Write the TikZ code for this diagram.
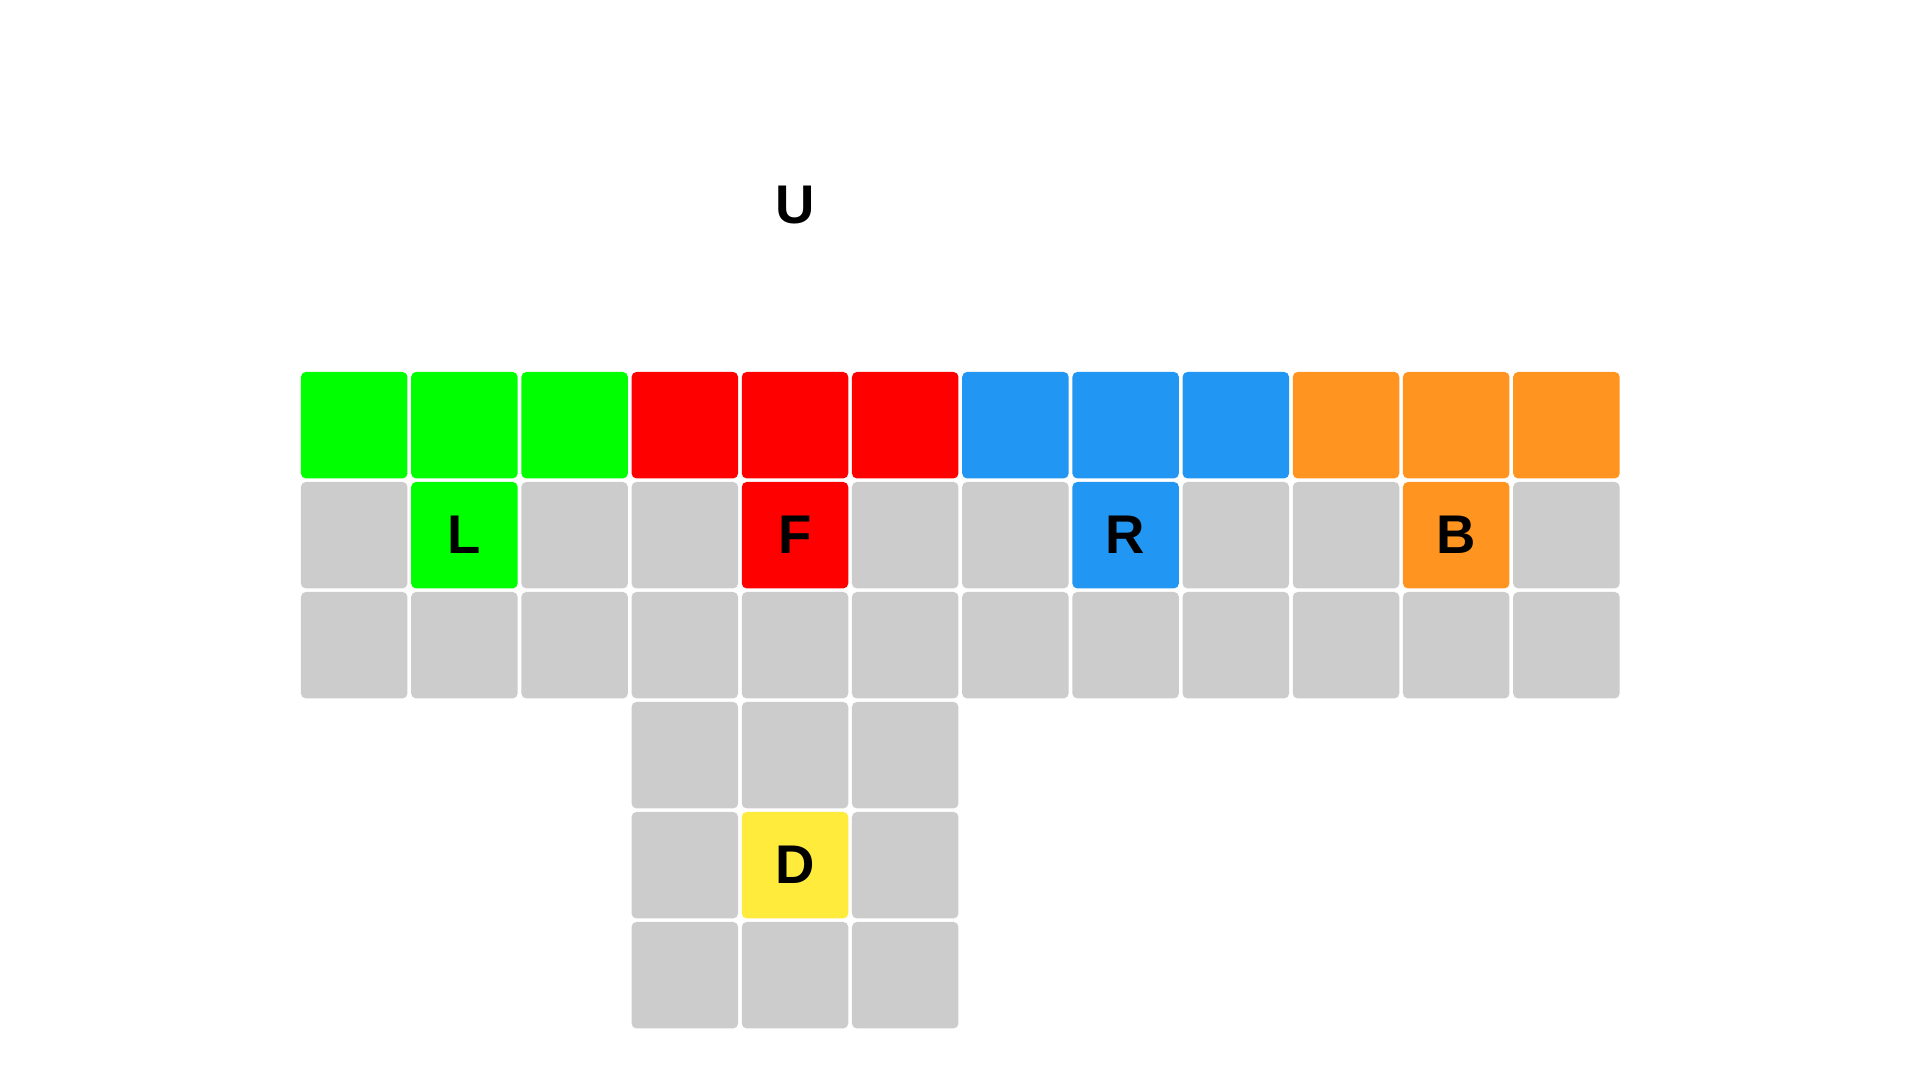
\documentclass[tikz,border=0pt]{standalone}
\usepackage{fontspec}
\setmainfont{Liberation Sans}
\usepackage{xcolor}
\usepackage{tikz}
\usetikzlibrary{positioning}
\definecolor{cL}{RGB}{0,255,0}
\definecolor{cF}{RGB}{255,0,0}
\definecolor{cR}{RGB}{33,150,243}
\definecolor{cB}{RGB}{255,148,32}
\definecolor{cD}{RGB}{255,235,59}
\definecolor{cgray}{RGB}{204,204,204}
\tikzset{
  cell/.style={fill=cgray, rounded corners=0.05cm, minimum width=1.065cm, minimum height=1.065cm, inner sep=0pt},
  facename/.style={font=\bfseries\fontsize{15.5}{18}\selectfont}
}

\begin{document}
\begin{tikzpicture}
    \fill[white] (0,0) rectangle (19.2,-10.8);
    \useasboundingbox (0,0) rectangle (19.2,-10.8);

    % top row of the up face edge
    \foreach \c/\clr in {0/cL,1/cL,2/cL,3/cF,4/cF,5/cF,6/cR,7/cR,8/cR,9/cB,10/cB,11/cB}
        \node [cell, fill=\clr] (t\c) at ({3.542+1.102*\c},-4.252) {};
    % middle row
    \foreach \c in {0,2,3,5,6,8,9,11}
        \node [cell] (m\c) at ({3.542+1.102*\c},-5.352) {};
    \node [cell, fill=cL, facename] (L) at ({3.542+1.102*1},-5.352) {L};
    \node [cell, fill=cF, facename] (F) at ({3.542+1.102*4},-5.352) {F};
    \node [cell, fill=cR, facename] (R) at ({3.542+1.102*7},-5.352) {R};
    \node [cell, fill=cB, facename] (B) at ({3.542+1.102*10},-5.352) {B};
    % bottom row
    \foreach \c in {0,...,11}
        \node [cell] (b\c) at ({3.542+1.102*\c},-6.452) {};
    % down face
    \foreach \r in {3,5}
        \foreach \c in {3,4,5}
            \node [cell] (d\c\r) at ({3.542+1.102*\c},{-4.252-1.10*\r}) {};
    \node [cell] (d34) at ({3.542+1.102*3},-8.652) {};
    \node [cell] (d54) at ({3.542+1.102*5},-8.652) {};
    \node [cell, fill=cD, facename] (D) at ({3.542+1.102*4},-8.652) {D};

    \node [facename] (U) at (7.95,-2.05) {U};
\end{tikzpicture}
\end{document}
